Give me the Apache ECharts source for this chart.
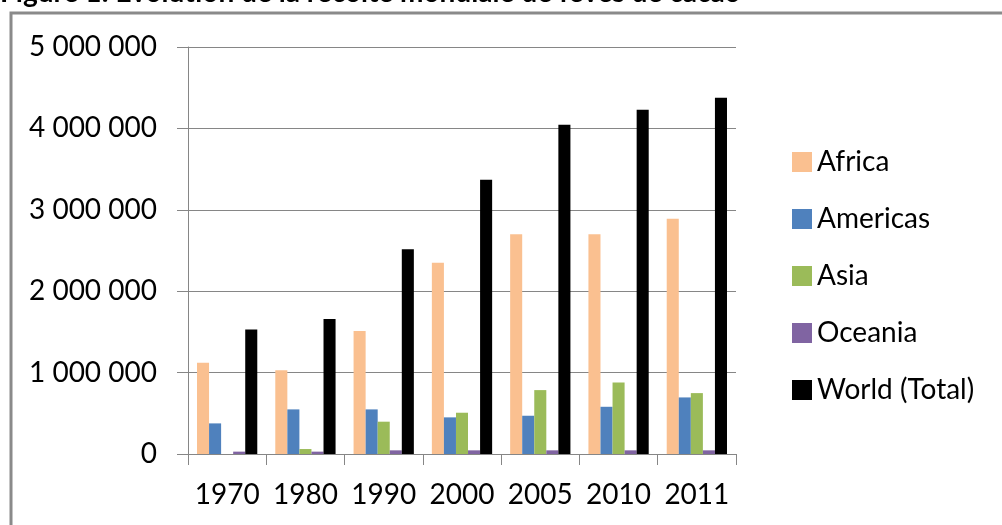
<!DOCTYPE html>
<html>
<head>
<meta charset="utf-8">
<script src="https://cdn.jsdelivr.net/npm/echarts@6/dist/echarts.min.js"></script>
<style>
  html, body { margin: 0; padding: 0; background: #ffffff; }
  #chart { width: 1002px; height: 525px; }
</style>
</head>
<body>
<div id="chart"></div>
<script>
// Cocoa bean harvest by region (tonnes)
const years = ['1970', '1980', '1990', '2000', '2005', '2010', '2011'];
const africa   = [1120000, 1030000, 1510000, 2350000, 2700000, 2700000, 2890000];
const americas = [376000, 548000, 548000, 450000, 470000, 580000, 695000];
const asia     = [0, 61000, 397000, 507000, 785000, 879000, 748000];
const oceania  = [29000, 29000, 45000, 45000, 45000, 45000, 45000];
const world    = [1530000, 1660000, 2515000, 3370000, 4045000, 4229000, 4376000];

const seriesNames = ['Africa', 'Americas', 'Asia', 'Oceania', 'World (Total)'];
const seriesColors = ['#FAC090', '#4F81BD', '#9BBB59', '#8064A2', '#000000'];
const seriesData = [africa, americas, asia, oceania, world];

const titleText = 'Figure 1: Evolution de la récolte mondiale de fèves de cacao';
const font = 'Lato, "Open Sans", sans-serif';

function spaced(v) {
  return String(v).replace(/\B(?=(\d{3})+(?!\d))/g, ' ');
}

const chart = echarts.init(document.getElementById('chart'), null, { renderer: 'canvas' });

chart.setOption({
  animation: false,
  backgroundColor: '#ffffff',
  textStyle: { fontFamily: font },
  grid: { left: 188, right: 266, top: 47, bottom: 71, containLabel: false },
  graphic: [
    {
      type: 'text',
      left: 0,
      top: -21,
      style: {
        text: titleText,
        fontFamily: font,
        fontWeight: 'bold',
        fontSize: 28,
        fill: '#000000'
      }
    },
    {
      type: 'rect',
      shape: { x: 11, y: 13, width: 1010, height: 540 },
      style: { fill: 'none', stroke: '#8a8a8a', lineWidth: 3 },
      silent: true
    }
  ],
  legend: {
    orient: 'vertical',
    left: 787,
    top: 143,
    itemWidth: 20,
    itemHeight: 20,
    itemGap: 29,
    icon: 'rect',
    textStyle: { fontFamily: font, fontSize: 28, color: '#000000', lineHeight: 28 },
    data: seriesNames
  },
  xAxis: {
    type: 'category',
    data: years,
    axisLine: { lineStyle: { color: '#868686', width: 1 } },
    axisTick: { show: true, length: 11, alignWithLabel: false, lineStyle: { color: '#868686' } },
    axisLabel: { interval: 0, fontFamily: font, fontSize: 28, color: '#000000', margin: 27 },
    splitLine: { show: false }
  },
  yAxis: {
    type: 'value',
    min: 0,
    max: 5000000,
    interval: 1000000,
    axisLine: { show: true, lineStyle: { color: '#868686', width: 1 } },
    axisTick: { show: true, length: 11, lineStyle: { color: '#868686' } },
    axisLabel: { fontFamily: font, fontSize: 28, color: '#000000', margin: 31, formatter: spaced },
    splitLine: { show: true, lineStyle: { color: '#868686', width: 1 } }
  },
  series: seriesNames.map((name, i) => ({
    name: name,
    type: 'bar',
    data: seriesData[i],
    barGap: '0%',
    barCategoryGap: '23%',
    itemStyle: { color: seriesColors[i] }
  }))
});
</script>
</body>
</html>
